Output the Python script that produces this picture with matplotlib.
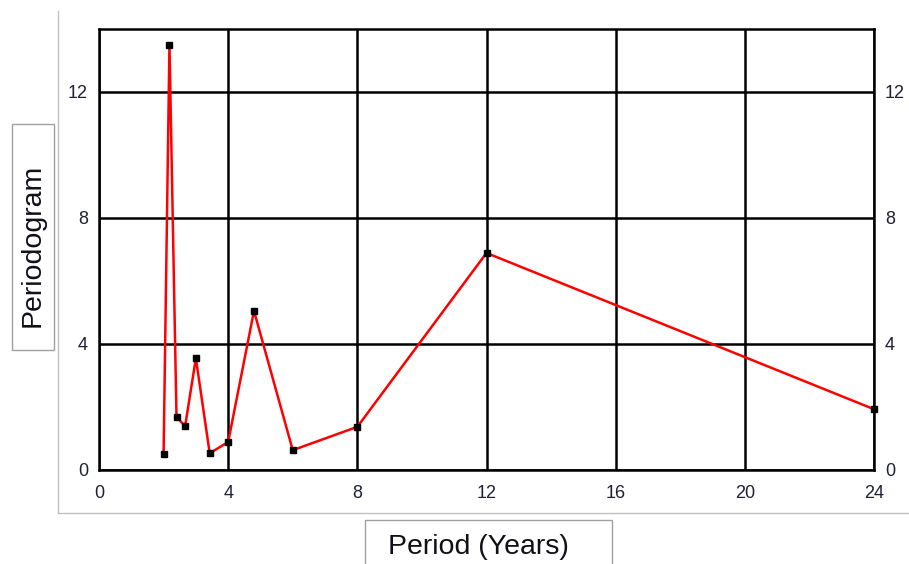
import matplotlib.pyplot as plt
from matplotlib.lines import Line2D
from matplotlib.patches import Rectangle

plt.rcParams['font.family'] = ['Liberation Sans', 'DejaVu Sans']

# periods of a 24-year series (24/k) and periodogram values
period = [2.0, 24 / 11, 2.4, 24 / 9, 3.0, 24 / 7, 4.0, 4.8, 6.0, 8.0, 12.0, 24.0]
pgram = [0.51, 13.5, 1.69, 1.39, 3.55, 0.53, 0.89, 5.05, 0.63, 1.37, 6.89, 1.93]
xticks = [0, 4, 8, 12, 16, 20, 24]
yticks = [0, 4, 8, 12]

W, H = 909, 564
fig = plt.figure(figsize=(W / 100, H / 100), dpi=100)
ax = fig.add_axes([99 / W, 1 - 470 / H, (874 - 99) / W, (470 - 29) / H])

ax.plot(period, pgram, color='red', lw=1.8, zorder=3, clip_on=False,
        marker='s', ms=4.5, mfc='black', mec='black')
ax.set_xlim(0, 24)
ax.set_ylim(0, 14)
ax.set_xticks(xticks)
ax.set_yticks(yticks)
ax.grid(True, color='black', lw=1.8)
ax.set_axisbelow(True)
for s in ax.spines.values():
    s.set_linewidth(1.8)
ax.tick_params(length=0, labelsize=13, labelcolor='#202038',
               right=True, labelright=True)
ax.tick_params(axis='x', pad=11)
ax.tick_params(axis='y', pad=8)

# outer frame lines and label boxes
fig.add_artist(Line2D([58 / W, 58 / W], [1 - 11 / H, 1 - 513 / H], color='#c0c0c0', lw=1))
fig.add_artist(Line2D([58 / W, 1], [1 - 513 / H, 1 - 513 / H], color='#c0c0c0', lw=1))
fig.add_artist(Rectangle((12 / W, 1 - 350 / H), 42 / W, 226 / H, fill=False,
                         ec='#a0a0a0', lw=1))
fig.add_artist(Rectangle((365 / W, 1 - 570 / H), 247 / W, 50 / H, fill=False,
                         ec='#a0a0a0', lw=1))
fig.text(33 / W, 1 - 245 / H, 'Periodogram', rotation=90, ha='center', va='center',
         fontsize=20.5, color='#101018')
fig.text(478 / W, 1 - 547 / H, 'Period (Years)', ha='center', va='center',
         fontsize=20.5, color='#101018')

fig.savefig('out.png', dpi=100)
